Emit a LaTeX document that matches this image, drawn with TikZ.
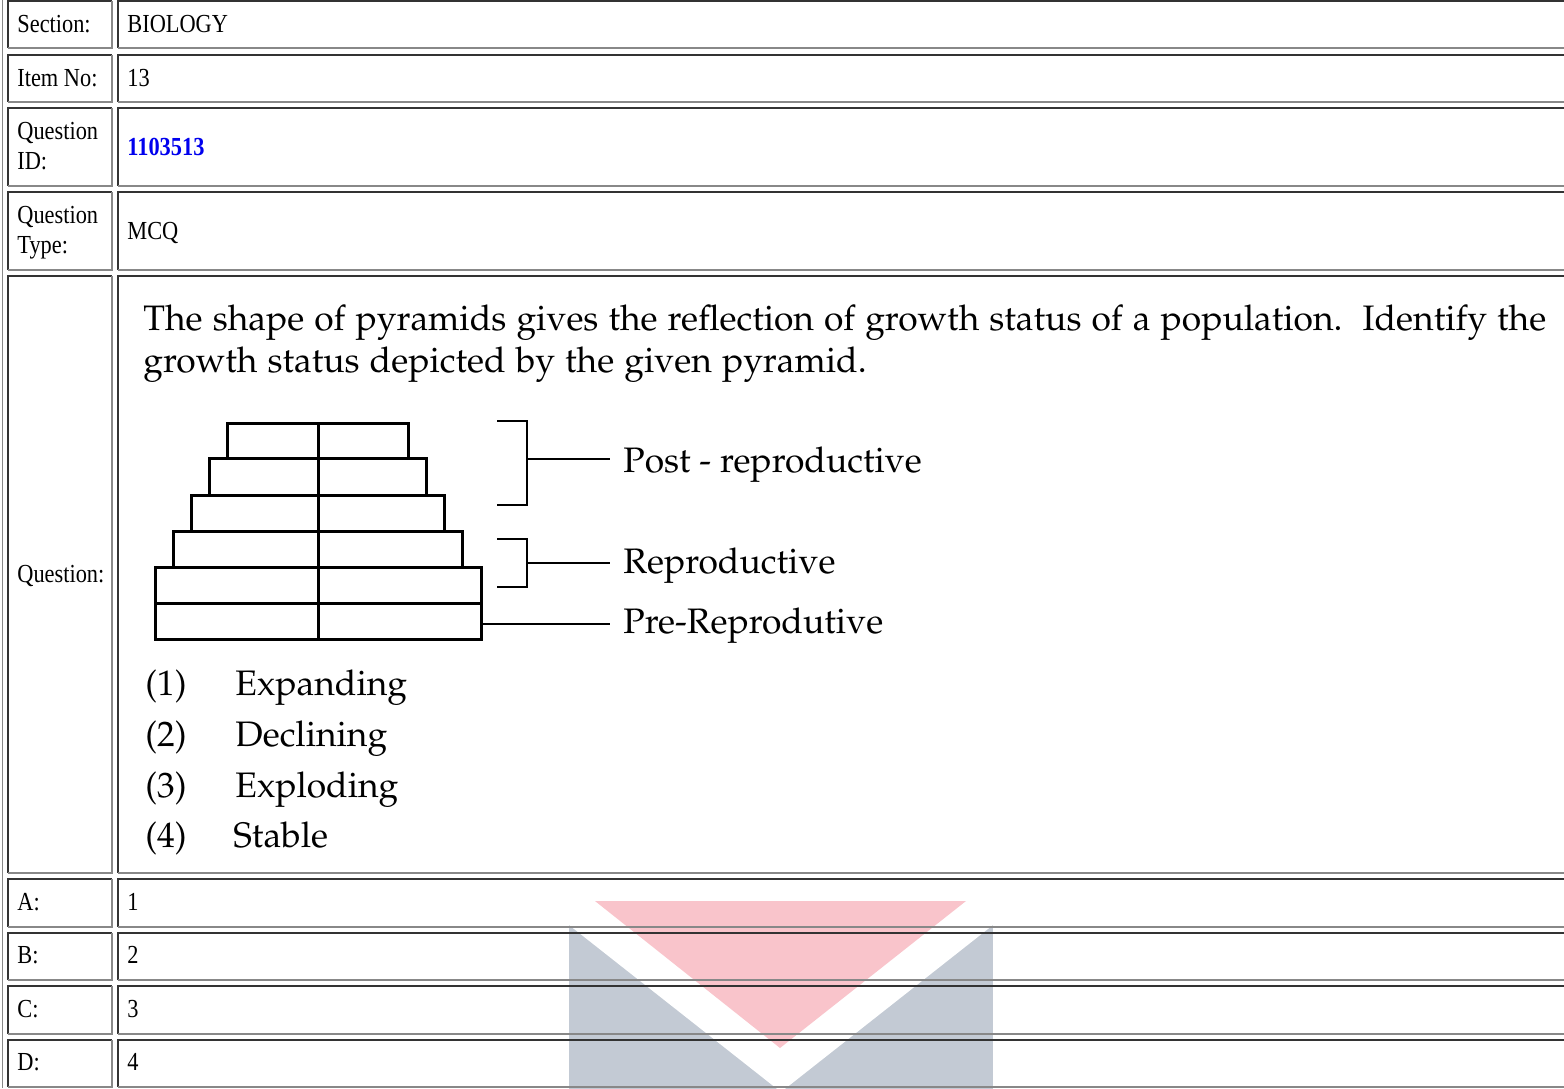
\documentclass[tikz,border=0pt]{standalone}
\usepackage[T1]{fontenc}
\usepackage{fontspec}
\setmainfont{Liberation Serif}
\newfontfamily\cellfont[FakeStretch=0.86]{Liberation Serif}
\newcommand\palfont{\fontencoding{T1}\fontfamily{ppl}\selectfont}
\newcommand\widespace{\spaceskip=0.285em plus 0.1em\relax}
\usepackage{xcolor}
\usepackage{tikz}
\usetikzlibrary{calc}
\usetikzlibrary{positioning}

\definecolor{darkline}{HTML}{333333}
\definecolor{lightline}{HTML}{888888}
\definecolor{idblue}{HTML}{0000EE}
\definecolor{logopink}{HTML}{F9C4CB}
\definecolor{logogray}{HTML}{C3CAD4}

% one table cell: dark top/left edge, light bottom/right edge
\newcommand\tcell[4]{%
  \draw [darkline, line width=1pt] (#1,#4) -- (#1,#2) -- (#3,#2);
  \draw [lightline, line width=1pt] (#1,#4) -- (#3,#4) -- (#3,#2);}

\begin{document}
\begin{tikzpicture}[
    x=0.5pt, y=-0.5pt,
    tbl/.style={font=\cellfont\fontsize{13pt}{15pt}\selectfont, anchor=base west, inner sep=0pt},
    pal/.style={font=\palfont\fontsize{17.7pt}{21pt}\selectfont, anchor=base west, inner sep=0pt},
    tier/.style={draw, line width=1.5pt},
    brace/.style={draw, line width=1pt}]

    \clip (0,0) rectangle (1564,1088);
    \fill [white] (0,0) rectangle (1564,1088);

    % watermark
    \fill [logogray] (569,901) rectangle (993,1095);
    \fill [white] (569,901) -- (569,925) -- (781,1092) -- (993,925) -- (993,901) -- cycle;
    \fill [logopink] (595,901) -- (966,901) -- (780,1048) -- cycle;

    % table
    \draw [lightline, line width=0.75pt] (2.5,0) -- (2.5,1088);
    \foreach \t/\b in {1/47.5, 55/101.5, 108/185.5, 192/269.5, 276/872.5,
                       879/926.5, 932.5/980, 986/1034, 1040/1087} {
      \tcell{8}{\t}{112}{\b}
      \tcell{118}{\t}{1580}{\b}
    }

    \node [tbl] (seclab) at (17,32) {Section:};
    \node [tbl] (secval) at (127,32) {BIOLOGY};
    \node [tbl] (itemlab) at (17,86.5) {Item No:};
    \node [tbl] (itemval) at (127,86.5) {13};
    \node [tbl] (qidlab) at (17,139) {Question};
    \node [tbl] (qidlabb) at (17,169) {ID:};
    \node [tbl, text=idblue, font=\cellfont\bfseries\fontsize{13pt}{15pt}\selectfont] (qidval) at (127,155) {1103513};
    \node [tbl] (typelab) at (17,223) {Question};
    \node [tbl] (typelabb) at (17,253) {Type:};
    \node [tbl] (typeval) at (127,239) {MCQ};
    \node [tbl] (qlab) at (17,582) {Question:};
    \node [tbl] (alab) at (17,910) {A:};
    \node [tbl] (aval) at (127,910) {1};
    \node [tbl] (blab) at (17,963) {B:};
    \node [tbl] (bval) at (127,963) {2};
    \node [tbl] (clab) at (17,1017) {C:};
    \node [tbl] (cval) at (127,1017) {3};
    \node [tbl] (dlab) at (17,1070) {D:};
    \node [tbl] (dval) at (127,1070) {4};

    % question text
    \node [pal] (qline) at (143,330) {\widespace The shape of pyramids gives the reflection of growth status of a population.\hspace{0.57em}Identify the};
    \node [pal] (qlineb) at (143,372) {\widespace growth status depicted by the given pyramid.};

    % pyramid
    \foreach \t/\b/\l/\r in {423/458/227/408, 458/495/209/426, 495/531/191/444,
                             531/567/173/462, 567/603/155/481, 603/639/155/481}
      \draw [tier] (\l,\t) rectangle (\r,\b);
    \draw [tier] (318,423) -- (318,639);

    % brackets and labels
    \node [pal, inner xsep=6.5pt] (postlab) at (610,472) {Post - reproductive};
    \node [pal, inner xsep=6.5pt] (replab) at (610,573) {Reproductive};
    \node [pal, inner xsep=6.5pt] (prelab) at (610,633) {Pre-Reprodutive};

    \coordinate (posttip) at (527,459);
    \coordinate (reptip) at (527,563);
    \coordinate (basetip) at (481,624);
    \draw [brace] (497,421) -| (527,505) -- (497,505);
    \draw [brace] (497,539) -| (527,587) -- (497,587);
    \draw [brace] (posttip) -- (posttip -| postlab.west);
    \draw [brace] (reptip) -- (reptip -| replab.west);
    \draw [brace] (basetip) -- (basetip -| prelab.west);

    % options
    \node [pal] (opta) at (145,695) {(1)};
    \node [pal] (optat) at (235,695) {Expanding};
    \node [pal] (optb) at (145,746) {(2)};
    \node [pal] (optbt) at (235,746) {Declining};
    \node [pal] (optc) at (145,797) {(3)};
    \node [pal] (optct) at (235,797) {Exploding};
    \node [pal] (optd) at (145,847) {(4)};
    \node [pal] (optdt) at (233,847) {Stable};

  \end{tikzpicture}
\end{document}
